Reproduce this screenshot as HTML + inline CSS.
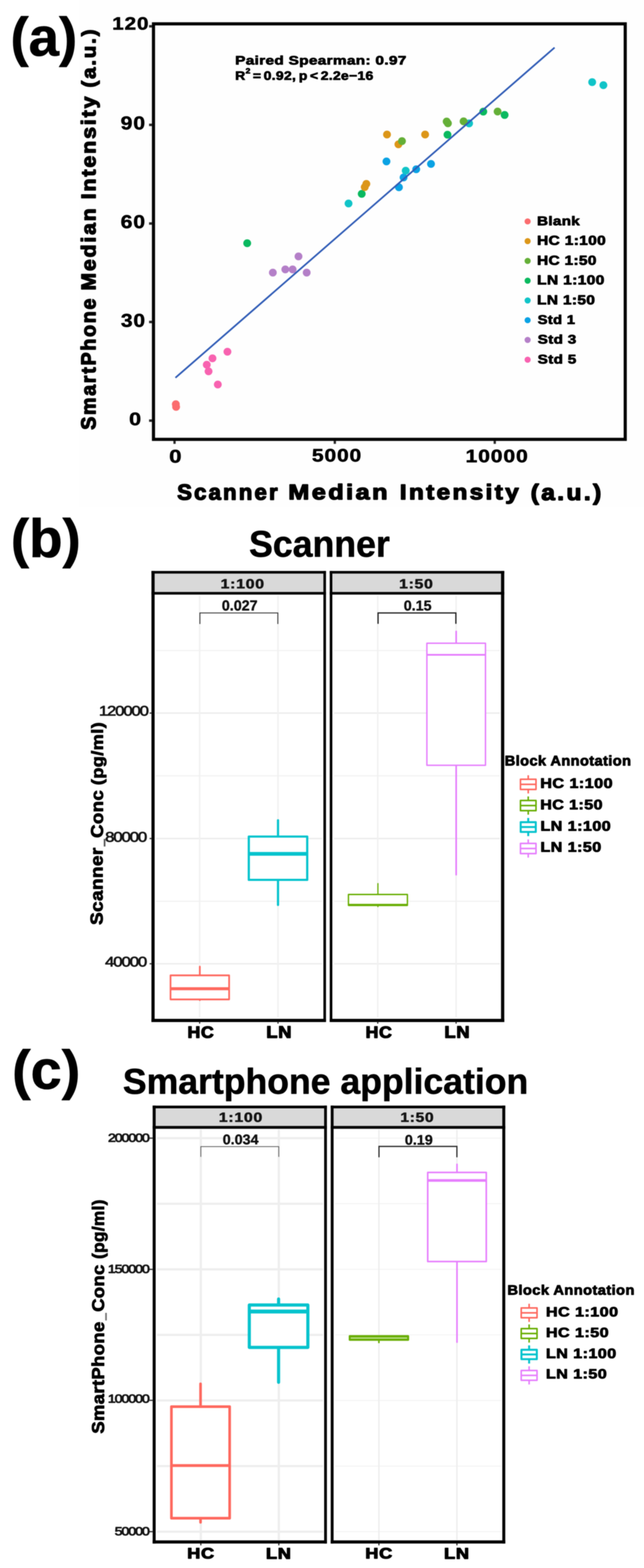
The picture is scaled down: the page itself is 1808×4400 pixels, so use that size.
<!DOCTYPE html>
<html lang="en">
<head>
<meta charset="utf-8">
<title>Scanner vs smartphone intensity</title>
<style>
html,body{margin:0;padding:0;background:#fff}
body{width:1808px;height:4400px;overflow:hidden}
svg{display:block}
text{text-rendering:geometricPrecision}
</style>
</head>
<body>
<svg width="1808" height="4400" viewBox="0 0 1808 4400">
<defs><filter id="soft" x="0" y="0" width="1808" height="4400" filterUnits="userSpaceOnUse" color-interpolation-filters="sRGB"><feGaussianBlur stdDeviation="1.2"/></filter></defs>
<g filter="url(#soft)">
<rect x="0" y="0" width="1808" height="4400" fill="#ffffff"/>
<rect x="222" y="0" width="1586" height="1423" fill="#fefefe"/>
<g id="panel-a">
<text transform="matrix(0.9943 0 0 0.9897 29.54 156.34)" font-family='"Liberation Sans", "DejaVu Sans", sans-serif' font-size="154" font-weight="bold" fill="#000" stroke="#000" stroke-width="1.6" stroke-linejoin="round">(a)</text>
<rect x="430.9" y="66.9" width="1324.4" height="1166" fill="none" stroke="#000" stroke-width="8.8"/>
<line x1="418.5" y1="1180.3" x2="427" y2="1180.3" stroke="#2a2a2a" stroke-width="7"/>
<line x1="418.5" y1="903.5" x2="427" y2="903.5" stroke="#2a2a2a" stroke-width="7"/>
<line x1="418.5" y1="627.2" x2="427" y2="627.2" stroke="#2a2a2a" stroke-width="7"/>
<line x1="418.5" y1="350.4" x2="427" y2="350.4" stroke="#2a2a2a" stroke-width="7"/>
<line x1="418.5" y1="73.8" x2="427" y2="73.8" stroke="#2a2a2a" stroke-width="7"/>
<text transform="matrix(1.2125 0 0 1.0429 314.97 82.96)" font-family='"Liberation Sans", "DejaVu Sans", sans-serif' font-size="48" font-weight="bold" fill="#000" stroke="#000" stroke-width="1.2" stroke-linejoin="round" letter-spacing="2">120</text>
<text transform="matrix(1.2340 0 0 1.0857 338.77 363.31)" font-family='"Liberation Sans", "DejaVu Sans", sans-serif' font-size="48" font-weight="bold" fill="#000" stroke="#000" stroke-width="1.2" stroke-linejoin="round" letter-spacing="2">90</text>
<text transform="matrix(1.2340 0 0 1.0857 338.77 640.11)" font-family='"Liberation Sans", "DejaVu Sans", sans-serif' font-size="48" font-weight="bold" fill="#000" stroke="#000" stroke-width="1.2" stroke-linejoin="round" letter-spacing="2">60</text>
<text transform="matrix(1.2224 0 0 1.0857 339.39 916.51)" font-family='"Liberation Sans", "DejaVu Sans", sans-serif' font-size="48" font-weight="bold" fill="#000" stroke="#000" stroke-width="1.2" stroke-linejoin="round" letter-spacing="2">30</text>
<text transform="matrix(1.2583 0 0 1.0571 362.61 1192.94)" font-family='"Liberation Sans", "DejaVu Sans", sans-serif' font-size="48" font-weight="bold" fill="#000" stroke="#000" stroke-width="1.2" stroke-linejoin="round" letter-spacing="2">0</text>
<line x1="490" y1="1237" x2="490" y2="1245.5" stroke="#2a2a2a" stroke-width="6.5"/>
<line x1="940" y1="1237" x2="940" y2="1245.5" stroke="#2a2a2a" stroke-width="6.5"/>
<line x1="1389" y1="1237" x2="1389" y2="1245.5" stroke="#2a2a2a" stroke-width="6.5"/>
<text transform="matrix(1.2917 0 0 1.0714 475.06 1298.43)" font-family='"Liberation Sans", "DejaVu Sans", sans-serif' font-size="48" font-weight="bold" fill="#000" stroke="#000" stroke-width="1.2" stroke-linejoin="round" letter-spacing="2">0</text>
<text transform="matrix(1.2262 0 0 1.0571 875.77 1295.44)" font-family='"Liberation Sans", "DejaVu Sans", sans-serif' font-size="48" font-weight="bold" fill="#000" stroke="#000" stroke-width="1.2" stroke-linejoin="round" letter-spacing="2">5000</text>
<text transform="matrix(1.2364 0 0 1.0571 1306.91 1297.44)" font-family='"Liberation Sans", "DejaVu Sans", sans-serif' font-size="48" font-weight="bold" fill="#000" stroke="#000" stroke-width="1.2" stroke-linejoin="round" letter-spacing="2">10000</text>
<text transform="matrix(1.0329 0 0 1.0220 497.50 1401.96)" font-family='"Liberation Sans", "DejaVu Sans", sans-serif' font-size="60" font-weight="bold" fill="#000" stroke="#000" stroke-width="3.3" stroke-linejoin="round" letter-spacing="6">Scanner</text>
<text transform="matrix(1.1759 0 0 0.9933 809.56 1401.31)" font-family='"Liberation Sans", "DejaVu Sans", sans-serif' font-size="60" font-weight="bold" fill="#000" stroke="#000" stroke-width="3.3" stroke-linejoin="round" letter-spacing="6">Median</text>
<text transform="matrix(1.1325 0 0 0.9933 1122.47 1401.31)" font-family='"Liberation Sans", "DejaVu Sans", sans-serif' font-size="60" font-weight="bold" fill="#000" stroke="#000" stroke-width="3.3" stroke-linejoin="round" letter-spacing="6">Intensity</text>
<text transform="matrix(1.1419 0 0 1.0424 1489.99 1402.91)" font-family='"Liberation Sans", "DejaVu Sans", sans-serif' font-size="60" font-weight="bold" fill="#000" stroke="#000" stroke-width="3.3" stroke-linejoin="round" letter-spacing="6">(a.u.)</text>
<text transform="matrix(0 -0.9818 1.0235 0 267.95 1206.00)" font-family='"Liberation Sans", "DejaVu Sans", sans-serif' font-size="56" font-weight="bold" fill="#000" stroke="#000" stroke-width="3" stroke-linejoin="round" letter-spacing="5">SmartPhone</text>
<text transform="matrix(0 -1.0585 1.0120 0 267.88 815.15)" font-family='"Liberation Sans", "DejaVu Sans", sans-serif' font-size="56" font-weight="bold" fill="#000" stroke="#000" stroke-width="3" stroke-linejoin="round" letter-spacing="5">Median</text>
<text transform="matrix(0 -1.0677 1.0120 0 267.88 559.37)" font-family='"Liberation Sans", "DejaVu Sans", sans-serif' font-size="56" font-weight="bold" fill="#000" stroke="#000" stroke-width="3" stroke-linejoin="round" letter-spacing="5">Intensity</text>
<text transform="matrix(0 -1.0256 0.9764 0 268.01 245.54)" font-family='"Liberation Sans", "DejaVu Sans", sans-serif' font-size="56" font-weight="bold" fill="#000" stroke="#000" stroke-width="3" stroke-linejoin="round" letter-spacing="5">(a.u.)</text>
<text transform="matrix(1.1340 0 0 0.9000 660.30 180.65)" font-family='"Liberation Sans", "DejaVu Sans", sans-serif' font-size="38" font-weight="bold" fill="#000" stroke="#000" stroke-width="1.9" stroke-linejoin="round" letter-spacing="0.8">Paired Spearman: 0.97</text>
<text transform="matrix(1.0844 0 0 0.9483 660.37 224.44)" font-family='"Liberation Sans", "DejaVu Sans", sans-serif' font-size="36" font-weight="bold" fill="#000" stroke="#000" stroke-width="1.8" stroke-linejoin="round" letter-spacing="0.8">R<tspan font-size="22" dy="-19">2</tspan><tspan dy="19" dx="6">=</tspan><tspan dx="6">0.92,</tspan><tspan dx="7">p</tspan><tspan dx="6">&lt;</tspan><tspan dx="6">2.2e−16</tspan></text>
<circle cx="493.6" cy="1134.2" r="11" fill="#fb6c6e"/>
<circle cx="494.4" cy="1141.8" r="11" fill="#fb6c6e"/>
<circle cx="638.5" cy="987" r="11" fill="#f862b0"/>
<circle cx="596.5" cy="1005.5" r="11" fill="#f862b0"/>
<circle cx="580.5" cy="1023.5" r="11" fill="#f862b0"/>
<circle cx="585.5" cy="1042" r="11" fill="#f862b0"/>
<circle cx="611.5" cy="1079" r="11" fill="#f862b0"/>
<circle cx="838" cy="719.5" r="11" fill="#b47fc8"/>
<circle cx="801" cy="756" r="11" fill="#b47fc8"/>
<circle cx="821.5" cy="756" r="11" fill="#b47fc8"/>
<circle cx="766" cy="765" r="11" fill="#b47fc8"/>
<circle cx="861" cy="765" r="11" fill="#b47fc8"/>
<circle cx="694" cy="682.5" r="11" fill="#0ab95f"/>
<circle cx="978.5" cy="571" r="11" fill="#10c4c8"/>
<circle cx="1015.5" cy="544" r="11" fill="#0ab95f"/>
<circle cx="1024" cy="525" r="11" fill="#dc9618"/>
<circle cx="1028.5" cy="516" r="11" fill="#dc9618"/>
<circle cx="1120" cy="525.5" r="11" fill="#0aa2e4"/>
<circle cx="1133" cy="498" r="11" fill="#0aa2e4"/>
<circle cx="1168.5" cy="475" r="11" fill="#0aa2e4"/>
<circle cx="1210" cy="460" r="11" fill="#0aa2e4"/>
<circle cx="1085" cy="453" r="11" fill="#0aa2e4"/>
<circle cx="1139" cy="479" r="11" fill="#10c4c8"/>
<circle cx="1086.5" cy="377.5" r="11" fill="#dc9618"/>
<circle cx="1193.5" cy="377.5" r="11" fill="#dc9618"/>
<circle cx="1118.5" cy="405" r="11" fill="#dc9618"/>
<circle cx="1128.5" cy="396" r="11" fill="#64af37"/>
<circle cx="1254" cy="341" r="11" fill="#64af37"/>
<circle cx="1257.5" cy="346" r="11" fill="#64af37"/>
<circle cx="1317" cy="346.3" r="11" fill="#10c4c8"/>
<circle cx="1301.5" cy="340.5" r="11" fill="#64af37"/>
<circle cx="1397" cy="313" r="11" fill="#64af37"/>
<circle cx="1256.3" cy="378" r="11" fill="#0ab95f"/>
<circle cx="1356.8" cy="313.3" r="11" fill="#0ab95f"/>
<circle cx="1416.7" cy="322.6" r="11" fill="#0ab95f"/>
<circle cx="1662.5" cy="230.5" r="11" fill="#10c4c8"/>
<circle cx="1694" cy="239" r="11" fill="#10c4c8"/>
<line x1="492.5" y1="1060" x2="1557" y2="133.5" stroke="#305cb6" stroke-width="4.8"/>
<circle cx="1481.3" cy="621.25" r="8.6" fill="#fb6c6e"/>
<text transform="matrix(1.1522 0 0 0.9561 1507.77 631.79)" font-family='"Liberation Sans", "DejaVu Sans", sans-serif' font-size="37" font-weight="bold" fill="#000" stroke="#000" stroke-width="1.9" stroke-linejoin="round" letter-spacing="0.8">Blank</text>
<circle cx="1481.3" cy="676.70" r="8.6" fill="#dc9618"/>
<text transform="matrix(1.1759 0 0 0.9909 1507.74 687.21)" font-family='"Liberation Sans", "DejaVu Sans", sans-serif' font-size="37" font-weight="bold" fill="#000" stroke="#000" stroke-width="1.9" stroke-linejoin="round" letter-spacing="0.8">HC 1:100</text>
<circle cx="1481.3" cy="732.15" r="8.6" fill="#64af37"/>
<text transform="matrix(1.1690 0 0 0.9909 1507.75 742.66)" font-family='"Liberation Sans", "DejaVu Sans", sans-serif' font-size="37" font-weight="bold" fill="#000" stroke="#000" stroke-width="1.9" stroke-linejoin="round" letter-spacing="0.8">HC 1:50</text>
<circle cx="1481.3" cy="787.60" r="8.6" fill="#0ab95f"/>
<text transform="matrix(1.1822 0 0 0.9909 1507.73 798.11)" font-family='"Liberation Sans", "DejaVu Sans", sans-serif' font-size="37" font-weight="bold" fill="#000" stroke="#000" stroke-width="1.9" stroke-linejoin="round" letter-spacing="0.8">LN 1:100</text>
<circle cx="1481.3" cy="843.05" r="8.6" fill="#10c4c8"/>
<text transform="matrix(1.1729 0 0 0.9909 1507.74 853.56)" font-family='"Liberation Sans", "DejaVu Sans", sans-serif' font-size="37" font-weight="bold" fill="#000" stroke="#000" stroke-width="1.9" stroke-linejoin="round" letter-spacing="0.8">LN 1:50</text>
<circle cx="1481.3" cy="898.50" r="8.6" fill="#0aa2e4"/>
<text transform="matrix(1.1198 0 0 0.9561 1509.50 909.04)" font-family='"Liberation Sans", "DejaVu Sans", sans-serif' font-size="37" font-weight="bold" fill="#000" stroke="#000" stroke-width="1.9" stroke-linejoin="round" letter-spacing="0.8">Std 1</text>
<circle cx="1481.3" cy="953.95" r="8.6" fill="#b47fc8"/>
<text transform="matrix(1.1561 0 0 0.9397 1509.50 964.04)" font-family='"Liberation Sans", "DejaVu Sans", sans-serif' font-size="37" font-weight="bold" fill="#000" stroke="#000" stroke-width="1.9" stroke-linejoin="round" letter-spacing="0.8">Std 3</text>
<circle cx="1481.3" cy="1009.40" r="8.6" fill="#f862b0"/>
<text transform="matrix(1.1561 0 0 0.9561 1509.50 1019.94)" font-family='"Liberation Sans", "DejaVu Sans", sans-serif' font-size="37" font-weight="bold" fill="#000" stroke="#000" stroke-width="1.9" stroke-linejoin="round" letter-spacing="0.8">Std 5</text>
</g>
<g id="panel-b">
<text transform="matrix(0.9973 0 0 0.9863 30.52 1563.45)" font-family='"Liberation Sans", "DejaVu Sans", sans-serif' font-size="154" font-weight="bold" fill="#000" stroke="#000" stroke-width="1.6" stroke-linejoin="round">(b)</text>
<text transform="matrix(1.0013 0 0 1.0382 699.25 1561.94)" font-family='"Liberation Sans", "DejaVu Sans", sans-serif' font-size="100" font-weight="bold" fill="#000" stroke="#000" stroke-width="1.4" stroke-linejoin="round">Scanner</text>
<line x1="438" y1="1825.5" x2="904" y2="1825.5" stroke="#f1f1f1" stroke-width="3"/>
<line x1="438" y1="2001" x2="904" y2="2001" stroke="#ededed" stroke-width="4.2"/>
<line x1="438" y1="2177" x2="904" y2="2177" stroke="#f1f1f1" stroke-width="3"/>
<line x1="438" y1="2353" x2="904" y2="2353" stroke="#ededed" stroke-width="4.2"/>
<line x1="438" y1="2529" x2="904" y2="2529" stroke="#f1f1f1" stroke-width="3"/>
<line x1="438" y1="2704.5" x2="904" y2="2704.5" stroke="#ededed" stroke-width="4.2"/>
<line x1="560.5" y1="1672" x2="560.5" y2="2856" stroke="#f1f1f1" stroke-width="4.2"/>
<line x1="780.5" y1="1672" x2="780.5" y2="2856" stroke="#f1f1f1" stroke-width="4.2"/>
<line x1="938" y1="1825.5" x2="1404" y2="1825.5" stroke="#f1f1f1" stroke-width="3"/>
<line x1="938" y1="2001" x2="1404" y2="2001" stroke="#ededed" stroke-width="4.2"/>
<line x1="938" y1="2177" x2="1404" y2="2177" stroke="#f1f1f1" stroke-width="3"/>
<line x1="938" y1="2353" x2="1404" y2="2353" stroke="#ededed" stroke-width="4.2"/>
<line x1="938" y1="2529" x2="1404" y2="2529" stroke="#f1f1f1" stroke-width="3"/>
<line x1="938" y1="2704.5" x2="1404" y2="2704.5" stroke="#ededed" stroke-width="4.2"/>
<line x1="1060.5" y1="1672" x2="1060.5" y2="2856" stroke="#f1f1f1" stroke-width="4.2"/>
<line x1="1280.5" y1="1672" x2="1280.5" y2="2856" stroke="#f1f1f1" stroke-width="4.2"/>
<rect x="429.65" y="1605.8500000000001" width="481.9" height="56.35" fill="#d9d9d9"/>
<rect x="425.2" y="1602.2" width="490.0" height="7.3" fill="#000"/>
<rect x="425.2" y="1661.2" width="490.0" height="7.3" fill="#000"/>
<rect x="425.2" y="2859" width="490.0" height="9" fill="#000"/>
<rect x="425.2" y="1602.2" width="8.9" height="1265.8" fill="#000"/>
<rect x="907.9000000000001" y="1602.2" width="7.3" height="1265.8" fill="#000"/>
<rect x="929.35" y="1605.8500000000001" width="481.8" height="56.35" fill="#d9d9d9"/>
<rect x="925.7" y="1602.2" width="490.0" height="7.3" fill="#000"/>
<rect x="925.7" y="1661.2" width="490.0" height="7.3" fill="#000"/>
<rect x="925.7" y="2859" width="490.0" height="9" fill="#000"/>
<rect x="925.7" y="1602.2" width="7.3" height="1265.8" fill="#000"/>
<rect x="1406.6000000000001" y="1602.2" width="9.1" height="1265.8" fill="#000"/>
<text transform="matrix(1.3122 0 0 1.1000 619.28 1651.40)" font-family='"Liberation Sans", "DejaVu Sans", sans-serif' font-size="34" font-weight="bold" fill="#141414" stroke="#141414" stroke-width="1.1" stroke-linejoin="round" letter-spacing="1.5">1:100</text>
<text transform="matrix(1.3036 0 0 1.1000 1120.54 1651.40)" font-family='"Liberation Sans", "DejaVu Sans", sans-serif' font-size="34" font-weight="bold" fill="#141414" stroke="#141414" stroke-width="1.1" stroke-linejoin="round" letter-spacing="1.5">1:50</text>
<line x1="420" y1="2001" x2="426" y2="2001" stroke="#333" stroke-width="3.5"/>
<line x1="420" y1="2353" x2="426" y2="2353" stroke="#333" stroke-width="3.5"/>
<line x1="420" y1="2704.5" x2="426" y2="2704.5" stroke="#333" stroke-width="3.5"/>
<line x1="560.5" y1="2867" x2="560.5" y2="2872.5" stroke="#333" stroke-width="3.5"/>
<line x1="780.5" y1="2867" x2="780.5" y2="2872.5" stroke="#333" stroke-width="3.5"/>
<line x1="1060.5" y1="2867" x2="1060.5" y2="2872.5" stroke="#333" stroke-width="3.5"/>
<line x1="1280.5" y1="2867" x2="1280.5" y2="2872.5" stroke="#333" stroke-width="3.5"/>
<text transform="matrix(1.1603 0 0 0.9746 277.68 2007.78)" font-family='"Liberation Sans", "DejaVu Sans", sans-serif' font-size="40" font-weight="normal" fill="#161616" stroke="#161616" stroke-width="1.7" stroke-linejoin="round" letter-spacing="-2.5">120000</text>
<text transform="matrix(1.1678 0 0 0.9831 295.13 2361.52)" font-family='"Liberation Sans", "DejaVu Sans", sans-serif' font-size="40" font-weight="normal" fill="#161616" stroke="#161616" stroke-width="1.7" stroke-linejoin="round" letter-spacing="-2.5">80000</text>
<text transform="matrix(1.1692 0 0 0.9746 295.00 2711.53)" font-family='"Liberation Sans", "DejaVu Sans", sans-serif' font-size="40" font-weight="normal" fill="#161616" stroke="#161616" stroke-width="1.7" stroke-linejoin="round" letter-spacing="-2.5">40000</text>
<text transform="matrix(0 -1.1557 1.0580 0 288.41 2595.58)" font-family='"Liberation Sans", "DejaVu Sans", sans-serif' font-size="46" font-weight="bold" fill="#000" stroke="#000" stroke-width="1.9" stroke-linejoin="round" letter-spacing="1">Scanner</text>
<text transform="matrix(0 -0.8113 2.6667 0 281.33 2375.09)" font-family='"Liberation Sans", "DejaVu Sans", sans-serif' font-size="46" font-weight="bold" fill="#555">_</text>
<text transform="matrix(0 -1.1313 1.0435 0 288.73 2351.13)" font-family='"Liberation Sans", "DejaVu Sans", sans-serif' font-size="46" font-weight="bold" fill="#000" stroke="#000" stroke-width="1.9" stroke-linejoin="round" letter-spacing="1">Conc</text>
<text transform="matrix(0 -1.1067 0.9888 0 288.62 2203.16)" font-family='"Liberation Sans", "DejaVu Sans", sans-serif' font-size="46" font-weight="bold" fill="#000" stroke="#000" stroke-width="1.9" stroke-linejoin="round" letter-spacing="1">(pg/ml)</text>
<text transform="matrix(1.0992 0 0 1.0086 526.45 2911.98)" font-family='"Liberation Sans", "DejaVu Sans", sans-serif' font-size="45" font-weight="bold" fill="#000" stroke="#000" stroke-width="2.8" stroke-linejoin="round" letter-spacing="2">HC</text>
<text transform="matrix(1.1373 0 0 1.0382 747.79 2912.44)" font-family='"Liberation Sans", "DejaVu Sans", sans-serif' font-size="45" font-weight="bold" fill="#000" stroke="#000" stroke-width="2.8" stroke-linejoin="round" letter-spacing="2">LN</text>
<text transform="matrix(1.0992 0 0 1.0086 1026.45 2911.98)" font-family='"Liberation Sans", "DejaVu Sans", sans-serif' font-size="45" font-weight="bold" fill="#000" stroke="#000" stroke-width="2.8" stroke-linejoin="round" letter-spacing="2">HC</text>
<text transform="matrix(1.1373 0 0 1.0382 1247.79 2912.44)" font-family='"Liberation Sans", "DejaVu Sans", sans-serif' font-size="45" font-weight="bold" fill="#000" stroke="#000" stroke-width="2.8" stroke-linejoin="round" letter-spacing="2">LN</text>
<line x1="561" y1="2712.44" x2="561" y2="2737" stroke="#fe685e" stroke-width="4.8" stroke-linecap="round"/>
<line x1="561" y1="2804.5" x2="561" y2="2806.56" stroke="#fe685e" stroke-width="4.8" stroke-linecap="round"/>
<rect x="478.75" y="2737" width="164.5" height="67.5" fill="#fff" stroke="#fe685e" stroke-width="4.8" stroke-linejoin="round"/>
<line x1="478.75" y1="2774.5" x2="643.25" y2="2774.5" stroke="#fe685e" stroke-width="8.5"/>
<line x1="780.5" y1="2301.86" x2="780.5" y2="2347.5" stroke="#06c3cd" stroke-width="6.2" stroke-linecap="round"/>
<line x1="780.5" y1="2469" x2="780.5" y2="2539.14" stroke="#06c3cd" stroke-width="6.2" stroke-linecap="round"/>
<rect x="698.5" y="2347.5" width="164" height="121.5" fill="#fff" stroke="#06c3cd" stroke-width="6.2" stroke-linejoin="round"/>
<line x1="698.5" y1="2396" x2="862.5" y2="2396" stroke="#06c3cd" stroke-width="10.5"/>
<line x1="1061" y1="2479.52" x2="1061" y2="2510" stroke="#69ae04" stroke-width="3.4" stroke-linecap="round"/>
<line x1="1061" y1="2540.5" x2="1061" y2="2543.98" stroke="#69ae04" stroke-width="3.4" stroke-linecap="round"/>
<rect x="978.25" y="2510" width="165.5" height="30.5" fill="#fff" stroke="#69ae04" stroke-width="3.9" stroke-linejoin="round"/>
<line x1="978.25" y1="2539.4" x2="1143.75" y2="2539.4" stroke="#69ae04" stroke-width="6.2"/>
<line x1="1280.7" y1="1771.88" x2="1280.7" y2="1805" stroke="#e67ffd" stroke-width="4.6" stroke-linecap="round"/>
<line x1="1280.7" y1="2147.5" x2="1280.7" y2="2454.62" stroke="#e67ffd" stroke-width="4.6" stroke-linecap="round"/>
<rect x="1198.45" y="1805" width="164.5" height="342.5" fill="#fff" stroke="#e67ffd" stroke-width="4" stroke-linejoin="round"/>
<line x1="1198.45" y1="1837.5" x2="1362.95" y2="1837.5" stroke="#e67ffd" stroke-width="5"/>
<path d="M561.2 1751V1720H780V1751" fill="none" stroke="#333" stroke-width="2.6"/>
<path d="M1061.4 1750.5V1720H1279.8V1750.5" fill="none" stroke="#222" stroke-width="3.6"/>
<text transform="matrix(1.0288 0 0 1.0439 622.72 1713.21)" font-family='"Liberation Sans", "DejaVu Sans", sans-serif' font-size="39" font-weight="bold" fill="#111" stroke="#111" stroke-width="0.9" stroke-linejoin="round">0.027</text>
<text transform="matrix(1.0302 0 0 1.0263 1133.47 1713.22)" font-family='"Liberation Sans", "DejaVu Sans", sans-serif' font-size="39" font-weight="bold" fill="#111" stroke="#111" stroke-width="0.9" stroke-linejoin="round">0.15</text>
<text transform="matrix(1.1077 0 0 1.0614 1417.09 2147.94)" font-family='"Liberation Sans", "DejaVu Sans", sans-serif' font-size="37" font-weight="bold" fill="#000" stroke="#000" stroke-width="1.9" stroke-linejoin="round" letter-spacing="1">Block Annotation</text>
<line x1="1483" y1="2175.5" x2="1483" y2="2226.5" stroke="#fe685e" stroke-width="4.4"/>
<rect x="1461.2" y="2186.7" width="43.6" height="28.6" fill="#fff" stroke="#fe685e" stroke-width="4.4" stroke-linejoin="round"/>
<line x1="1461.2" y1="2201" x2="1504.8" y2="2201" stroke="#fe685e" stroke-width="4.4"/>
<line x1="1483" y1="2235.0" x2="1483" y2="2286.0" stroke="#69ae04" stroke-width="4.4"/>
<rect x="1461.2" y="2246.2" width="43.6" height="28.6" fill="#fff" stroke="#69ae04" stroke-width="4.4" stroke-linejoin="round"/>
<line x1="1461.2" y1="2260.5" x2="1504.8" y2="2260.5" stroke="#69ae04" stroke-width="4.4"/>
<line x1="1483" y1="2295.3" x2="1483" y2="2346.3" stroke="#06c3cd" stroke-width="5.6"/>
<rect x="1461.8" y="2307.1" width="42.4" height="27.4" fill="#fff" stroke="#06c3cd" stroke-width="5.6" stroke-linejoin="round"/>
<line x1="1461.8" y1="2320.8" x2="1504.2" y2="2320.8" stroke="#06c3cd" stroke-width="5.6"/>
<line x1="1483" y1="2355.5" x2="1483" y2="2406.5" stroke="#e67ffd" stroke-width="4.4"/>
<rect x="1461.2" y="2366.7" width="43.6" height="28.6" fill="#fff" stroke="#e67ffd" stroke-width="4.4" stroke-linejoin="round"/>
<line x1="1461.2" y1="2381" x2="1504.8" y2="2381" stroke="#e67ffd" stroke-width="4.4"/>
<text transform="matrix(1.1970 0 0 1.0207 1516.70 2211.47)" font-family='"Liberation Sans", "DejaVu Sans", sans-serif' font-size="38" font-weight="bold" fill="#000" stroke="#000" stroke-width="1.9" stroke-linejoin="round" letter-spacing="1">HC 1:100</text>
<text transform="matrix(1.1849 0 0 1.0172 1516.72 2271.47)" font-family='"Liberation Sans", "DejaVu Sans", sans-serif' font-size="38" font-weight="bold" fill="#000" stroke="#000" stroke-width="1.9" stroke-linejoin="round" letter-spacing="1">HC 1:50</text>
<text transform="matrix(1.1927 0 0 1.0207 1517.21 2331.07)" font-family='"Liberation Sans", "DejaVu Sans", sans-serif' font-size="38" font-weight="bold" fill="#000" stroke="#000" stroke-width="1.9" stroke-linejoin="round" letter-spacing="1">LN 1:100</text>
<text transform="matrix(1.1915 0 0 1.0207 1517.21 2390.47)" font-family='"Liberation Sans", "DejaVu Sans", sans-serif' font-size="38" font-weight="bold" fill="#000" stroke="#000" stroke-width="1.9" stroke-linejoin="round" letter-spacing="1">LN 1:50</text>
</g>
<g id="panel-c">
<text transform="matrix(1.0172 0 0 0.9966 33.88 3054.61)" font-family='"Liberation Sans", "DejaVu Sans", sans-serif' font-size="154" font-weight="bold" fill="#000" stroke="#000" stroke-width="1.6" stroke-linejoin="round">(c)</text>
<text transform="matrix(0.9991 0 0 1.0053 345.00 3068.89)" font-family='"Liberation Sans", "DejaVu Sans", sans-serif' font-size="100" font-weight="bold" fill="#000" stroke="#000" stroke-width="1.4" stroke-linejoin="round">Smartphone application</text>
<line x1="441" y1="3193.75" x2="907" y2="3193.75" stroke="#eeeeee" stroke-width="6.2"/>
<line x1="441" y1="3377.8" x2="907" y2="3377.8" stroke="#eeeeee" stroke-width="6.2"/>
<line x1="441" y1="3561.85" x2="907" y2="3561.85" stroke="#eeeeee" stroke-width="6.2"/>
<line x1="441" y1="3745.9" x2="907" y2="3745.9" stroke="#eeeeee" stroke-width="6.2"/>
<line x1="441" y1="3929.95" x2="907" y2="3929.95" stroke="#eeeeee" stroke-width="6.2"/>
<line x1="441" y1="4114.0" x2="907" y2="4114.0" stroke="#eeeeee" stroke-width="6.2"/>
<line x1="441" y1="4298.05" x2="907" y2="4298.05" stroke="#eeeeee" stroke-width="6.2"/>
<line x1="563.75" y1="3170" x2="563.75" y2="4321" stroke="#eeeeee" stroke-width="6.2"/>
<line x1="782.75" y1="3170" x2="782.75" y2="4321" stroke="#eeeeee" stroke-width="6.2"/>
<line x1="941" y1="3193.75" x2="1407" y2="3193.75" stroke="#f2f2f2" stroke-width="2.4"/>
<line x1="941" y1="3377.8" x2="1407" y2="3377.8" stroke="#f2f2f2" stroke-width="2.4"/>
<line x1="941" y1="3561.85" x2="1407" y2="3561.85" stroke="#f2f2f2" stroke-width="2.4"/>
<line x1="941" y1="3745.9" x2="1407" y2="3745.9" stroke="#f2f2f2" stroke-width="2.4"/>
<line x1="941" y1="3929.95" x2="1407" y2="3929.95" stroke="#f2f2f2" stroke-width="2.4"/>
<line x1="941" y1="4114.0" x2="1407" y2="4114.0" stroke="#f2f2f2" stroke-width="2.4"/>
<line x1="941" y1="4298.05" x2="1407" y2="4298.05" stroke="#f2f2f2" stroke-width="2.4"/>
<line x1="1063.75" y1="3170" x2="1063.75" y2="4321" stroke="#ededed" stroke-width="3.8"/>
<line x1="1282.75" y1="3170" x2="1282.75" y2="4321" stroke="#ededed" stroke-width="3.8"/>
<rect x="432.8" y="3106.3" width="481.1" height="54.3" fill="#d9d9d9"/>
<rect x="428.6" y="3102.5" width="489.2" height="7.6" fill="#000"/>
<rect x="428.6" y="3159.6" width="489.2" height="7.9" fill="#000"/>
<rect x="428.6" y="4322.5" width="489.2" height="8.8" fill="#000"/>
<rect x="428.6" y="3102.5" width="8.4" height="1228.8" fill="#000"/>
<rect x="910.0" y="3102.5" width="7.8" height="1228.8" fill="#000"/>
<rect x="932.5" y="3106.3" width="481.85" height="54.3" fill="#d9d9d9"/>
<rect x="928.5" y="3102.5" width="490.0" height="7.6" fill="#000"/>
<rect x="928.5" y="3159.6" width="490.0" height="7.9" fill="#000"/>
<rect x="928.5" y="4322.5" width="490.0" height="8.8" fill="#000"/>
<rect x="928.5" y="3102.5" width="8.0" height="1228.8" fill="#000"/>
<rect x="1410.2" y="3102.5" width="8.3" height="1228.8" fill="#000"/>
<text transform="matrix(1.3122 0 0 1.1000 614.28 3147.65)" font-family='"Liberation Sans", "DejaVu Sans", sans-serif' font-size="34" font-weight="bold" fill="#141414" stroke="#141414" stroke-width="1.1" stroke-linejoin="round" letter-spacing="1.5">1:100</text>
<text transform="matrix(1.2857 0 0 1.1000 1124.07 3147.65)" font-family='"Liberation Sans", "DejaVu Sans", sans-serif' font-size="34" font-weight="bold" fill="#141414" stroke="#141414" stroke-width="1.1" stroke-linejoin="round" letter-spacing="1.5">1:50</text>
<line x1="420" y1="3193.75" x2="428.6" y2="3193.75" stroke="#333" stroke-width="3.5"/>
<line x1="420" y1="3562" x2="428.6" y2="3562" stroke="#333" stroke-width="3.5"/>
<line x1="420" y1="3929.5" x2="428.6" y2="3929.5" stroke="#333" stroke-width="3.5"/>
<line x1="420" y1="4298" x2="428.6" y2="4298" stroke="#333" stroke-width="3.5"/>
<line x1="563.75" y1="4331" x2="563.75" y2="4336.5" stroke="#333" stroke-width="3.5"/>
<line x1="782.75" y1="4331" x2="782.75" y2="4336.5" stroke="#333" stroke-width="3.5"/>
<line x1="1063.75" y1="4331" x2="1063.75" y2="4336.5" stroke="#333" stroke-width="3.5"/>
<line x1="1282.75" y1="4331" x2="1282.75" y2="4336.5" stroke="#333" stroke-width="3.5"/>
<text transform="matrix(1.1625 0 0 0.9615 303.17 3203.56)" font-family='"Liberation Sans", "DejaVu Sans", sans-serif' font-size="34" font-weight="normal" fill="#161616" stroke="#161616" stroke-width="2.0" stroke-linejoin="round" letter-spacing="-2.5">200000</text>
<text transform="matrix(1.1667 0 0 0.9615 302.75 3572.31)" font-family='"Liberation Sans", "DejaVu Sans", sans-serif' font-size="34" font-weight="normal" fill="#161616" stroke="#161616" stroke-width="2.0" stroke-linejoin="round" letter-spacing="-2.5">150000</text>
<text transform="matrix(1.1667 0 0 0.9615 302.75 3936.06)" font-family='"Liberation Sans", "DejaVu Sans", sans-serif' font-size="34" font-weight="normal" fill="#161616" stroke="#161616" stroke-width="2.0" stroke-linejoin="round" letter-spacing="-2.5">100000</text>
<text transform="matrix(1.1677 0 0 0.9615 321.92 4307.56)" font-family='"Liberation Sans", "DejaVu Sans", sans-serif' font-size="34" font-weight="normal" fill="#161616" stroke="#161616" stroke-width="2.0" stroke-linejoin="round" letter-spacing="-2.5">50000</text>
<text transform="matrix(0 -1.1215 1.0522 0 291.72 4023.06)" font-family='"Liberation Sans", "DejaVu Sans", sans-serif' font-size="46" font-weight="bold" fill="#000" stroke="#000" stroke-width="1.9" stroke-linejoin="round" letter-spacing="1">SmartPhone</text>
<text transform="matrix(0 -0.8075 2.6667 0 285.33 3705.00)" font-family='"Liberation Sans", "DejaVu Sans", sans-serif' font-size="46" font-weight="bold" fill="#777">_</text>
<text transform="matrix(0 -1.1193 1.0377 0 291.64 3681.12)" font-family='"Liberation Sans", "DejaVu Sans", sans-serif' font-size="46" font-weight="bold" fill="#000" stroke="#000" stroke-width="1.9" stroke-linejoin="round" letter-spacing="1">Conc</text>
<text transform="matrix(0 -1.0460 1.0225 0 291.76 3532.77)" font-family='"Liberation Sans", "DejaVu Sans", sans-serif' font-size="46" font-weight="bold" fill="#000" stroke="#000" stroke-width="1.9" stroke-linejoin="round" letter-spacing="1">(pg/ml)</text>
<text transform="matrix(1.1221 0 0 0.9286 525.82 4373.14)" font-family='"Liberation Sans", "DejaVu Sans", sans-serif' font-size="45" font-weight="bold" fill="#000" stroke="#000" stroke-width="2.8" stroke-linejoin="round" letter-spacing="2">HC</text>
<text transform="matrix(1.1271 0 0 0.9559 746.81 4373.57)" font-family='"Liberation Sans", "DejaVu Sans", sans-serif' font-size="45" font-weight="bold" fill="#000" stroke="#000" stroke-width="2.8" stroke-linejoin="round" letter-spacing="2">LN</text>
<text transform="matrix(1.1221 0 0 0.9286 1025.82 4373.14)" font-family='"Liberation Sans", "DejaVu Sans", sans-serif' font-size="45" font-weight="bold" fill="#000" stroke="#000" stroke-width="2.8" stroke-linejoin="round" letter-spacing="2">HC</text>
<text transform="matrix(1.1271 0 0 0.9559 1246.81 4373.57)" font-family='"Liberation Sans", "DejaVu Sans", sans-serif' font-size="45" font-weight="bold" fill="#000" stroke="#000" stroke-width="2.8" stroke-linejoin="round" letter-spacing="2">LN</text>
<line x1="563" y1="3883.22" x2="563" y2="3947.2" stroke="#fe685e" stroke-width="7.4" stroke-linecap="round"/>
<line x1="563" y1="4260.3" x2="563" y2="4271.78" stroke="#fe685e" stroke-width="7.4" stroke-linecap="round"/>
<rect x="481.25" y="3947.2" width="163.5" height="313.1" fill="#fff" stroke="#fe685e" stroke-width="7.4" stroke-linejoin="round"/>
<line x1="481.25" y1="4112.5" x2="644.75" y2="4112.5" stroke="#fe685e" stroke-width="8"/>
<line x1="782.1" y1="3645.14" x2="782.1" y2="3662" stroke="#06c3cd" stroke-width="8.8" stroke-linecap="round"/>
<line x1="782.1" y1="3781" x2="782.1" y2="3878.86" stroke="#06c3cd" stroke-width="8.8" stroke-linecap="round"/>
<rect x="699.9" y="3662" width="164.4" height="119" fill="#fff" stroke="#06c3cd" stroke-width="8.8" stroke-linejoin="round"/>
<line x1="699.9" y1="3680.3" x2="864.3" y2="3680.3" stroke="#06c3cd" stroke-width="11"/>
<line x1="1063.75" y1="3760" x2="1063.75" y2="3769" stroke="#69ae04" stroke-width="4.5"/>
<rect x="979" y="3746.4" width="169.6" height="16" fill="#69ae04" rx="3"/>
<line x1="984.5" y1="3754.8" x2="1143" y2="3754.8" stroke="#c9e8a4" stroke-width="3"/>
<line x1="1283" y1="3267.35" x2="1283" y2="3290" stroke="#e67ffd" stroke-width="4.5" stroke-linecap="round"/>
<line x1="1283" y1="3540" x2="1283" y2="3766.15" stroke="#e67ffd" stroke-width="4.5" stroke-linecap="round"/>
<rect x="1200.8" y="3290" width="164.4" height="250" fill="#fff" stroke="#e67ffd" stroke-width="4.5" stroke-linejoin="round"/>
<line x1="1200.8" y1="3312.5" x2="1365.2" y2="3312.5" stroke="#e67ffd" stroke-width="7.5"/>
<path d="M563.75 3246.3V3217.5H782.6V3246.3" fill="none" stroke="#4a4a4a" stroke-width="2"/>
<path d="M1064 3247.5V3217H1282.7V3247.5" fill="none" stroke="#2a2a2a" stroke-width="3.4"/>
<text transform="matrix(1.0309 0 0 1.0088 625.22 3211.49)" font-family='"Liberation Sans", "DejaVu Sans", sans-serif' font-size="39" font-weight="bold" fill="#111" stroke="#111" stroke-width="0.9" stroke-linejoin="round">0.034</text>
<text transform="matrix(1.0338 0 0 1.0000 1136.47 3211.50)" font-family='"Liberation Sans", "DejaVu Sans", sans-serif' font-size="39" font-weight="bold" fill="#111" stroke="#111" stroke-width="0.9" stroke-linejoin="round">0.19</text>
<text transform="matrix(1.1144 0 0 1.0351 1424.58 3633.46)" font-family='"Liberation Sans", "DejaVu Sans", sans-serif' font-size="37" font-weight="bold" fill="#000" stroke="#000" stroke-width="1.9" stroke-linejoin="round" letter-spacing="1">Block Annotation</text>
<line x1="1485.5" y1="3658.5" x2="1485.5" y2="3709.5" stroke="#fe685e" stroke-width="4.4"/>
<rect x="1463.3" y="3670.2" width="44.4" height="27.6" fill="#fff" stroke="#fe685e" stroke-width="4.4" stroke-linejoin="round"/>
<line x1="1463.3" y1="3684" x2="1507.7" y2="3684" stroke="#fe685e" stroke-width="4.4"/>
<line x1="1485.5" y1="3716.5" x2="1485.5" y2="3767.5" stroke="#69ae04" stroke-width="4.4"/>
<rect x="1463.3" y="3728.2" width="44.4" height="27.6" fill="#fff" stroke="#69ae04" stroke-width="4.4" stroke-linejoin="round"/>
<line x1="1463.3" y1="3742" x2="1507.7" y2="3742" stroke="#69ae04" stroke-width="4.4"/>
<line x1="1485.5" y1="3775.3" x2="1485.5" y2="3826.3" stroke="#06c3cd" stroke-width="5.6"/>
<rect x="1463.8999999999999" y="3787.6" width="43.199999999999996" height="26.4" fill="#fff" stroke="#06c3cd" stroke-width="5.6" stroke-linejoin="round"/>
<line x1="1463.8999999999999" y1="3800.8" x2="1507.1000000000001" y2="3800.8" stroke="#06c3cd" stroke-width="5.6"/>
<line x1="1485.5" y1="3834.0" x2="1485.5" y2="3885.0" stroke="#e67ffd" stroke-width="4.4"/>
<rect x="1463.3" y="3845.7" width="44.4" height="27.6" fill="#fff" stroke="#e67ffd" stroke-width="4.4" stroke-linejoin="round"/>
<line x1="1463.3" y1="3859.5" x2="1507.7" y2="3859.5" stroke="#e67ffd" stroke-width="4.4"/>
<text transform="matrix(1.1934 0 0 0.9914 1532.71 3693.51)" font-family='"Liberation Sans", "DejaVu Sans", sans-serif' font-size="38" font-weight="bold" fill="#000" stroke="#000" stroke-width="1.9" stroke-linejoin="round" letter-spacing="1">HC 1:100</text>
<text transform="matrix(1.1924 0 0 0.9914 1532.71 3752.26)" font-family='"Liberation Sans", "DejaVu Sans", sans-serif' font-size="38" font-weight="bold" fill="#000" stroke="#000" stroke-width="1.9" stroke-linejoin="round" letter-spacing="1">HC 1:50</text>
<text transform="matrix(1.1920 0 0 1.0103 1532.71 3810.78)" font-family='"Liberation Sans", "DejaVu Sans", sans-serif' font-size="38" font-weight="bold" fill="#000" stroke="#000" stroke-width="1.9" stroke-linejoin="round" letter-spacing="1">LN 1:100</text>
<text transform="matrix(1.1908 0 0 0.9897 1532.71 3868.22)" font-family='"Liberation Sans", "DejaVu Sans", sans-serif' font-size="38" font-weight="bold" fill="#000" stroke="#000" stroke-width="1.9" stroke-linejoin="round" letter-spacing="1">LN 1:50</text>
</g>
</g>
</svg>
</body>
</html>
